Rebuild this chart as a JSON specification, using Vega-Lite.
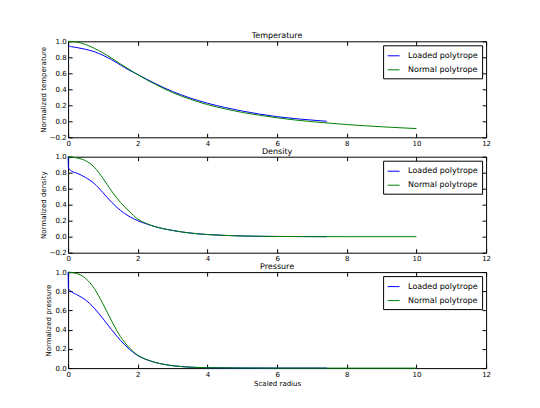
{
  "$schema": "https://vega.github.io/schema/vega-lite/v6.json",
  "padding": {"left": 38.1, "top": 31.3, "right": 5, "bottom": 5},
  "background": "white",
  "datasets": {
    "temp": [
      {"radius": 0, "value": 0.955, "model": "Loaded polytrope"},
      {"radius": 0.03, "value": 0.94, "model": "Loaded polytrope"},
      {"radius": 0.1, "value": 0.932, "model": "Loaded polytrope"},
      {"radius": 0.25, "value": 0.922, "model": "Loaded polytrope"},
      {"radius": 0.5, "value": 0.9, "model": "Loaded polytrope"},
      {"radius": 0.75, "value": 0.87, "model": "Loaded polytrope"},
      {"radius": 1.0, "value": 0.825, "model": "Loaded polytrope"},
      {"radius": 1.25, "value": 0.77, "model": "Loaded polytrope"},
      {"radius": 1.5, "value": 0.705, "model": "Loaded polytrope"},
      {"radius": 1.75, "value": 0.64, "model": "Loaded polytrope"},
      {"radius": 2.0, "value": 0.585, "model": "Loaded polytrope"},
      {"radius": 2.25, "value": 0.527, "model": "Loaded polytrope"},
      {"radius": 2.5, "value": 0.472, "model": "Loaded polytrope"},
      {"radius": 2.75, "value": 0.42, "model": "Loaded polytrope"},
      {"radius": 3.0, "value": 0.372, "model": "Loaded polytrope"},
      {"radius": 3.5, "value": 0.292, "model": "Loaded polytrope"},
      {"radius": 4.0, "value": 0.226, "model": "Loaded polytrope"},
      {"radius": 4.5, "value": 0.173, "model": "Loaded polytrope"},
      {"radius": 5.0, "value": 0.128, "model": "Loaded polytrope"},
      {"radius": 5.5, "value": 0.09, "model": "Loaded polytrope"},
      {"radius": 6.0, "value": 0.058, "model": "Loaded polytrope"},
      {"radius": 6.5, "value": 0.034, "model": "Loaded polytrope"},
      {"radius": 7.0, "value": 0.015, "model": "Loaded polytrope"},
      {"radius": 7.43, "value": 0.0, "model": "Loaded polytrope"},
      {"radius": 0, "value": 1.0, "model": "Normal polytrope"},
      {"radius": 0.25, "value": 0.99, "model": "Normal polytrope"},
      {"radius": 0.5, "value": 0.96, "model": "Normal polytrope"},
      {"radius": 0.75, "value": 0.913, "model": "Normal polytrope"},
      {"radius": 1.0, "value": 0.855, "model": "Normal polytrope"},
      {"radius": 1.25, "value": 0.789, "model": "Normal polytrope"},
      {"radius": 1.5, "value": 0.718, "model": "Normal polytrope"},
      {"radius": 1.75, "value": 0.65, "model": "Normal polytrope"},
      {"radius": 2.0, "value": 0.583, "model": "Normal polytrope"},
      {"radius": 2.25, "value": 0.52, "model": "Normal polytrope"},
      {"radius": 2.5, "value": 0.463, "model": "Normal polytrope"},
      {"radius": 2.75, "value": 0.409, "model": "Normal polytrope"},
      {"radius": 3.0, "value": 0.359, "model": "Normal polytrope"},
      {"radius": 3.5, "value": 0.277, "model": "Normal polytrope"},
      {"radius": 4.0, "value": 0.209, "model": "Normal polytrope"},
      {"radius": 4.5, "value": 0.156, "model": "Normal polytrope"},
      {"radius": 5.0, "value": 0.111, "model": "Normal polytrope"},
      {"radius": 5.5, "value": 0.0757, "model": "Normal polytrope"},
      {"radius": 6.0, "value": 0.0437, "model": "Normal polytrope"},
      {"radius": 6.5, "value": 0.0173, "model": "Normal polytrope"},
      {"radius": 7.0, "value": -0.0043, "model": "Normal polytrope"},
      {"radius": 7.5, "value": -0.0235, "model": "Normal polytrope"},
      {"radius": 8.0, "value": -0.0404, "model": "Normal polytrope"},
      {"radius": 8.5, "value": -0.0552, "model": "Normal polytrope"},
      {"radius": 9.0, "value": -0.0684, "model": "Normal polytrope"},
      {"radius": 9.5, "value": -0.0802, "model": "Normal polytrope"},
      {"radius": 10.0, "value": -0.0908, "model": "Normal polytrope"}
    ],
    "dens": [
      {"radius": 0, "value": 1.0, "model": "Loaded polytrope"},
      {"radius": 0.01, "value": 0.86, "model": "Loaded polytrope"},
      {"radius": 0.1, "value": 0.82, "model": "Loaded polytrope"},
      {"radius": 0.25, "value": 0.795, "model": "Loaded polytrope"},
      {"radius": 0.5, "value": 0.74, "model": "Loaded polytrope"},
      {"radius": 0.75, "value": 0.665, "model": "Loaded polytrope"},
      {"radius": 1.0, "value": 0.55, "model": "Loaded polytrope"},
      {"radius": 1.25, "value": 0.43, "model": "Loaded polytrope"},
      {"radius": 1.5, "value": 0.33, "model": "Loaded polytrope"},
      {"radius": 1.75, "value": 0.255, "model": "Loaded polytrope"},
      {"radius": 2.0, "value": 0.2, "model": "Loaded polytrope"},
      {"radius": 2.25, "value": 0.16, "model": "Loaded polytrope"},
      {"radius": 2.5, "value": 0.125, "model": "Loaded polytrope"},
      {"radius": 3.0, "value": 0.078, "model": "Loaded polytrope"},
      {"radius": 3.5, "value": 0.046, "model": "Loaded polytrope"},
      {"radius": 4.0, "value": 0.027, "model": "Loaded polytrope"},
      {"radius": 4.5, "value": 0.016, "model": "Loaded polytrope"},
      {"radius": 5.0, "value": 0.009, "model": "Loaded polytrope"},
      {"radius": 6.0, "value": 0.003, "model": "Loaded polytrope"},
      {"radius": 7.0, "value": 0.001, "model": "Loaded polytrope"},
      {"radius": 7.43, "value": 0.0, "model": "Loaded polytrope"},
      {"radius": 0, "value": 1.0, "model": "Normal polytrope"},
      {"radius": 0.25, "value": 0.985, "model": "Normal polytrope"},
      {"radius": 0.5, "value": 0.95, "model": "Normal polytrope"},
      {"radius": 0.75, "value": 0.87, "model": "Normal polytrope"},
      {"radius": 1.0, "value": 0.73, "model": "Normal polytrope"},
      {"radius": 1.25, "value": 0.57, "model": "Normal polytrope"},
      {"radius": 1.5, "value": 0.43, "model": "Normal polytrope"},
      {"radius": 1.75, "value": 0.32, "model": "Normal polytrope"},
      {"radius": 2.0, "value": 0.22, "model": "Normal polytrope"},
      {"radius": 2.25, "value": 0.165, "model": "Normal polytrope"},
      {"radius": 2.5, "value": 0.125, "model": "Normal polytrope"},
      {"radius": 3.0, "value": 0.078, "model": "Normal polytrope"},
      {"radius": 3.5, "value": 0.046, "model": "Normal polytrope"},
      {"radius": 4.0, "value": 0.027, "model": "Normal polytrope"},
      {"radius": 4.5, "value": 0.016, "model": "Normal polytrope"},
      {"radius": 5.0, "value": 0.009, "model": "Normal polytrope"},
      {"radius": 6.0, "value": 0.003, "model": "Normal polytrope"},
      {"radius": 7.0, "value": 0.001, "model": "Normal polytrope"},
      {"radius": 8.0, "value": 0.0, "model": "Normal polytrope"},
      {"radius": 10.0, "value": 0.0, "model": "Normal polytrope"}
    ],
    "pres": [
      {"radius": 0, "value": 1.0, "model": "Loaded polytrope"},
      {"radius": 0.01, "value": 0.83, "model": "Loaded polytrope"},
      {"radius": 0.1, "value": 0.795, "model": "Loaded polytrope"},
      {"radius": 0.25, "value": 0.765, "model": "Loaded polytrope"},
      {"radius": 0.5, "value": 0.71, "model": "Loaded polytrope"},
      {"radius": 0.75, "value": 0.625, "model": "Loaded polytrope"},
      {"radius": 1.0, "value": 0.515, "model": "Loaded polytrope"},
      {"radius": 1.25, "value": 0.4, "model": "Loaded polytrope"},
      {"radius": 1.5, "value": 0.29, "model": "Loaded polytrope"},
      {"radius": 1.75, "value": 0.2, "model": "Loaded polytrope"},
      {"radius": 2.0, "value": 0.13, "model": "Loaded polytrope"},
      {"radius": 2.25, "value": 0.088, "model": "Loaded polytrope"},
      {"radius": 2.5, "value": 0.059, "model": "Loaded polytrope"},
      {"radius": 3.0, "value": 0.025, "model": "Loaded polytrope"},
      {"radius": 3.5, "value": 0.01, "model": "Loaded polytrope"},
      {"radius": 4.0, "value": 0.004, "model": "Loaded polytrope"},
      {"radius": 5.0, "value": 0.001, "model": "Loaded polytrope"},
      {"radius": 6.0, "value": 0.0, "model": "Loaded polytrope"},
      {"radius": 7.43, "value": 0.0, "model": "Loaded polytrope"},
      {"radius": 0, "value": 1.0, "model": "Normal polytrope"},
      {"radius": 0.25, "value": 0.985, "model": "Normal polytrope"},
      {"radius": 0.5, "value": 0.935, "model": "Normal polytrope"},
      {"radius": 0.75, "value": 0.83, "model": "Normal polytrope"},
      {"radius": 1.0, "value": 0.67, "model": "Normal polytrope"},
      {"radius": 1.25, "value": 0.49, "model": "Normal polytrope"},
      {"radius": 1.5, "value": 0.33, "model": "Normal polytrope"},
      {"radius": 1.75, "value": 0.215, "model": "Normal polytrope"},
      {"radius": 2.0, "value": 0.135, "model": "Normal polytrope"},
      {"radius": 2.25, "value": 0.09, "model": "Normal polytrope"},
      {"radius": 2.5, "value": 0.06, "model": "Normal polytrope"},
      {"radius": 3.0, "value": 0.025, "model": "Normal polytrope"},
      {"radius": 3.5, "value": 0.01, "model": "Normal polytrope"},
      {"radius": 4.0, "value": 0.004, "model": "Normal polytrope"},
      {"radius": 5.0, "value": 0.001, "model": "Normal polytrope"},
      {"radius": 6.0, "value": 0.0, "model": "Normal polytrope"},
      {"radius": 10.0, "value": 0.0, "model": "Normal polytrope"}
    ]
  },
  "vconcat": [
    {
      "width": 418,
      "height": 96,
      "title": "Temperature",
      "data": {"name": "temp"},
      "layer": [
        {
          "mark": {"type": "line", "strokeWidth": 1, "interpolate": "monotone"},
          "encoding": {
            "x": {"field": "radius", "type": "quantitative", "scale": {"domain": [0, 12], "nice": false}, "axis": {"values": [0, 2, 4, 6, 8, 10, 12], "title": null}},
            "y": {"field": "value", "type": "quantitative", "scale": {"domain": [-0.2, 1.0], "nice": false, "zero": false}, "axis": {"values": [-0.2, 0, 0.2, 0.4, 0.6, 0.8, 1.0], "format": ".1f", "title": "Normalized temperature"}},
            "color": {"field": "model", "type": "nominal", "scale": {"domain": ["Loaded polytrope", "Normal polytrope"], "range": ["#0000ff", "#008000"]}, "legend": {"orient": "top-right"}}
          }
        },
        {
          "mark": {"type": "line", "opacity": 0},
          "encoding": {
            "x": {"field": "radius", "type": "quantitative", "axis": {"orient": "top", "values": [0, 2, 4, 6, 8, 10, 12], "labels": false, "title": null}},
            "y": {"field": "value", "type": "quantitative", "axis": {"orient": "right", "values": [-0.2, 0, 0.2, 0.4, 0.6, 0.8, 1.0], "labels": false, "title": null}}
          }
        }
      ],
      "resolve": {"axis": {"x": "independent", "y": "independent"}}
    },
    {
      "width": 418,
      "height": 96,
      "title": "Density",
      "data": {"name": "dens"},
      "layer": [
        {
          "mark": {"type": "line", "strokeWidth": 1, "interpolate": "monotone"},
          "encoding": {
            "x": {"field": "radius", "type": "quantitative", "scale": {"domain": [0, 12], "nice": false}, "axis": {"values": [0, 2, 4, 6, 8, 10, 12], "title": null}},
            "y": {"field": "value", "type": "quantitative", "scale": {"domain": [-0.2, 1.0], "nice": false, "zero": false}, "axis": {"values": [-0.2, 0, 0.2, 0.4, 0.6, 0.8, 1.0], "format": ".1f", "title": "Normalized density"}},
            "color": {"field": "model", "type": "nominal", "scale": {"domain": ["Loaded polytrope", "Normal polytrope"], "range": ["#0000ff", "#008000"]}, "legend": {"orient": "top-right"}}
          }
        },
        {
          "mark": {"type": "line", "opacity": 0},
          "encoding": {
            "x": {"field": "radius", "type": "quantitative", "axis": {"orient": "top", "values": [0, 2, 4, 6, 8, 10, 12], "labels": false, "title": null}},
            "y": {"field": "value", "type": "quantitative", "axis": {"orient": "right", "values": [-0.2, 0, 0.2, 0.4, 0.6, 0.8, 1.0], "labels": false, "title": null}}
          }
        }
      ],
      "resolve": {"axis": {"x": "independent", "y": "independent"}}
    },
    {
      "width": 418,
      "height": 96,
      "title": "Pressure",
      "data": {"name": "pres"},
      "layer": [
        {
          "mark": {"type": "line", "strokeWidth": 1, "interpolate": "monotone"},
          "encoding": {
            "x": {"field": "radius", "type": "quantitative", "scale": {"domain": [0, 12], "nice": false}, "axis": {"values": [0, 2, 4, 6, 8, 10, 12], "title": "Scaled radius", "titlePadding": 2}},
            "y": {"field": "value", "type": "quantitative", "scale": {"domain": [0, 1.0], "nice": false}, "axis": {"values": [0, 0.2, 0.4, 0.6, 0.8, 1.0], "format": ".1f", "title": "Normalized pressure"}},
            "color": {"field": "model", "type": "nominal", "scale": {"domain": ["Loaded polytrope", "Normal polytrope"], "range": ["#0000ff", "#008000"]}, "legend": {"orient": "top-right"}}
          }
        },
        {
          "mark": {"type": "line", "opacity": 0},
          "encoding": {
            "x": {"field": "radius", "type": "quantitative", "axis": {"orient": "top", "values": [0, 2, 4, 6, 8, 10, 12], "labels": false, "title": null}},
            "y": {"field": "value", "type": "quantitative", "axis": {"orient": "right", "values": [0, 0.2, 0.4, 0.6, 0.8, 1.0], "labels": false, "title": null}}
          }
        }
      ],
      "resolve": {"axis": {"x": "independent", "y": "independent"}}
    }
  ],
  "spacing": 19.4,
  "bounds": "flush",
  "resolve": {"scale": {"color": "independent"}, "legend": {"color": "independent"}},
  "config": {
    "font": "DejaVu Sans",
    "view": {"stroke": "black", "strokeWidth": 1},
    "axis": {
      "domain": false,
      "grid": false,
      "tickSize": -4,
      "tickColor": "black",
      "labelFontSize": 7,
      "labelColor": "black",
      "labelPadding": 6,
      "labelFlush": false,
      "labelOverlap": false,
      "titleFontSize": 7,
      "titleFontWeight": "normal",
      "titleColor": "black",
      "titlePadding": 3
    },
    "title": {"fontSize": 8, "fontWeight": "normal", "offset": -3, "frame": "group", "color": "black"},
    "legend": {
      "title": null,
      "offset": 4,
      "padding": 4,
      "strokeColor": "black",
      "fillColor": "white",
      "cornerRadius": 0,
      "symbolType": "stroke",
      "symbolSize": 144,
      "symbolStrokeWidth": 1,
      "labelFontSize": 8,
      "labelColor": "black",
      "labelOffset": 8,
      "rowPadding": 3
    }
  }
}
